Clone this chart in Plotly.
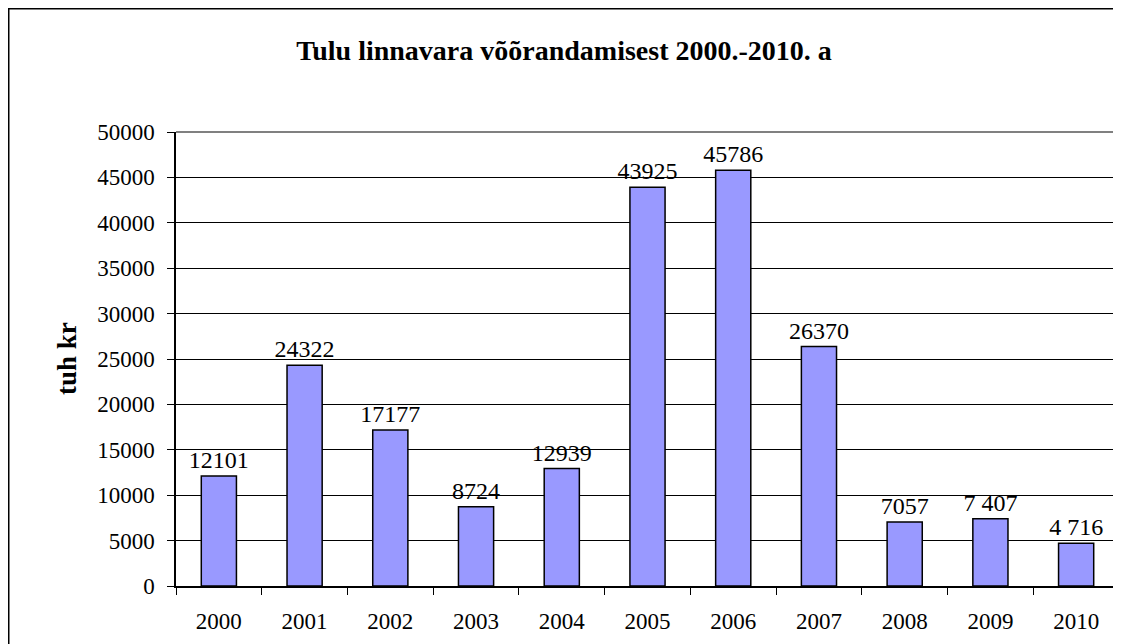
import plotly.graph_objects as go

years = ["2000", "2001", "2002", "2003", "2004", "2005", "2006", "2007", "2008", "2009", "2010"]
values = [12101, 24322, 17177, 8724, 12939, 43925, 45786, 26370, 7057, 7407, 4716]
labels = ["12101", "24322", "17177", "8724", "12939", "43925", "45786", "26370", "7057", "7 407", "4 716"]
y_ticks = [0, 5000, 10000, 15000, 20000, 25000, 30000, 35000, 40000, 45000, 50000]

# page body has an 8px margin, so the figure is sized/placed accordingly
W, H = 1113, 636
L, R, T, B = 168, 2, 124, 58
pw = W - L - R
ph = H - T - B

font = "Liberation Serif, Times New Roman, serif"

fig = go.Figure(go.Bar(
    x=years, y=values, text=labels, textposition="outside",
    textfont=dict(family=font, size=24, color="black"),
    constraintext="none",
    marker=dict(color="#9999FF", line=dict(color="black", width=1.5)),
    cliponaxis=False,
))

fig.update_layout(
    width=W, height=H,
    margin=dict(l=L, r=R, t=T, b=B),
    paper_bgcolor="white", plot_bgcolor="white",
    bargap=0.59,
    showlegend=False,
    title=dict(text="<b>Tulu linnavara võõrandamisest 2000.-2010. a</b>",
               x=556 / W, xanchor="center", y=1 - 42 / H, yanchor="middle",
               font=dict(family=font, size=28, color="black")),
    font=dict(family=font, size=23, color="black"),
)

fig.update_xaxes(
    type="category", showline=True, linecolor="black", linewidth=1.5,
    ticks="outside", tickson="boundaries", ticklen=7, tickcolor="black", tickwidth=1,
    tickfont=dict(family=font, size=23, color="black"), showgrid=False,
    ticklabelstandoff=14,
)
fig.update_yaxes(
    range=[0, 50000], tickvals=y_ticks, ticktext=[str(v) for v in y_ticks],
    showline=True, linecolor="black", linewidth=1.5,
    ticks="outside", ticklen=7, tickcolor="black", tickwidth=1,
    showgrid=True, gridcolor="black", gridwidth=1, zeroline=False,
    tickfont=dict(family=font, size=23, color="black"),
    ticklabelstandoff=8,
)

fig.add_annotation(text="<b>tuh kr</b>", xref="paper", yref="paper",
                   x=(59 - L) / pw, y=0.5, xanchor="center", yanchor="middle",
                   textangle=-90, showarrow=False,
                   font=dict(family=font, size=27, color="black"))

# outer chart border (frame)
fig.add_shape(type="rect", xref="paper", yref="paper",
              x0=(0.75 - L) / pw, x1=(1112 - L) / pw,
              y0=-0.5, y1=(H - B - 0.75) / ph,
              line=dict(color="black", width=1.5), fillcolor="rgba(0,0,0,0)", layer="below")
# plot-area top edge (gray)
fig.add_shape(type="line", xref="paper", yref="paper", x0=0, x1=1, y0=1, y1=1,
              line=dict(color="#808080", width=2))
fig.add_shape(type="line", xref="paper", yref="paper", x0=1, x1=1, y0=0, y1=1,
              line=dict(color="#aaaaaa", width=1))

fig.write_html("out.html")
